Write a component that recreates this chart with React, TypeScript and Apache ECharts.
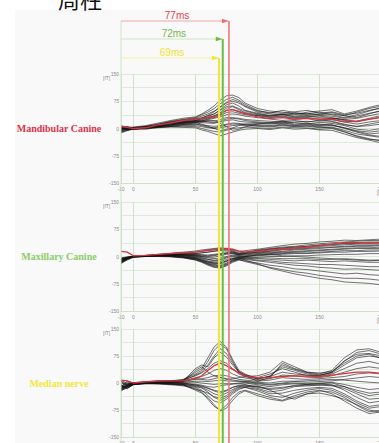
import React, { useEffect, useRef } from "react";
import * as echarts from "echarts";

// time samples (ms)
const timesMs = [-10, -5, 0, 10, 20, 30, 40, 50, 55, 60, 65, 70, 75, 80, 85, 90, 100, 110, 120, 130, 140, 150, 160, 170, 180, 190, 200, 210];

const xTickLabels = [-10, 0, 50, 100, 150, 200];
const yTickLabels = [-150, -75, 0, 75, 150];
const xGridValues = [0, 50, 100, 150, 200];

const panelNames = ["Mandibular Canine", "Maxillary Canine", "Median nerve"];
const latencyMs = [77, 72, 69];
const latencyLabels = ["77ms", "72ms", "69ms"];

// Mandibular canine (fT)
const mandibularMean = [5, 3, 0, 2, 10, 15, 22, 25, 28, 30, 33, 38, 50, 52, 46, 40, 32, 28, 30, 26, 28, 25, 26, 18, 20, 26, 30, 34];
const mandibularTraces = [
  [-5, 2, 4, 8, 15, 22, 28, 32, 40, 50, 62, 78, 90, 92, 85, 70, 55, 48, 45, 40, 42, 38, 40, 35, 45, 55, 62, 68],
  [0, 5, 2, 5, 12, 20, 25, 30, 38, 45, 55, 68, 80, 86, 78, 66, 50, 42, 50, 44, 40, 45, 38, 30, 38, 48, 58, 64],
  [3, -3, 0, 4, 10, 18, 24, 28, 34, 40, 48, 58, 70, 75, 70, 60, 45, 40, 38, 42, 36, 40, 44, 35, 30, 40, 50, 55],
  [-8, -2, -3, 3, 8, 14, 20, 26, 30, 35, 40, 50, 60, 62, 55, 48, 40, 35, 38, 32, 34, 30, 28, 25, 28, 35, 42, 48],
  [6, 0, 2, 6, 12, 18, 22, 25, 28, 30, 35, 42, 50, 52, 48, 42, 35, 30, 32, 28, 30, 26, 28, 22, 18, 25, 32, 38],
  [-3, 4, 1, 2, 8, 12, 18, 20, 22, 24, 28, 32, 38, 40, 38, 34, 30, 26, 22, 25, 28, 20, 24, 18, 12, 18, 22, 28],
  [2, -4, -1, 3, 6, 10, 15, 18, 20, 22, 20, 25, 30, 30, 28, 25, 22, 20, 18, 22, 18, 22, 20, 12, 5, 8, 12, 15],
  [-6, 2, 0, 1, 5, 8, 12, 15, 16, 15, 14, 18, 22, 24, 20, 18, 16, 14, 18, 12, 15, 10, 14, 8, -2, -5, 0, 4],
  [4, -2, 1, 0, 4, 6, 10, 12, 10, 8, 6, 8, 12, 15, 14, 12, 10, 8, 12, 8, 10, 6, 8, 2, -8, -15, -12, -8],
  [-10, -5, -2, 2, 4, 6, 8, 8, 5, 2, 0, 2, 5, 8, 10, 8, 6, 4, 8, 5, 6, 2, 4, -5, -15, -20, -25, -22],
  [0, 3, -2, -2, 3, 5, 6, 5, 0, -4, -8, -10, -5, 0, 2, 4, 2, 0, 4, 2, 2, -2, 0, -10, -20, -28, -35, -32],
  [-12, -6, -1, 1, 2, 4, 3, 2, -4, -8, -14, -20, -15, -10, -5, -2, 0, -3, 2, -2, 0, -4, -5, -15, -25, -32, -40, -42],
  [8, 4, 2, 4, 10, 16, 20, 22, 26, 32, 40, 52, 65, 70, 62, 50, 42, 36, 40, 38, 45, 48, 52, 40, 48, 58, 66, 72],
  [-4, 0, -1, 2, 6, 10, 14, 16, 18, 20, 22, 14, 5, -5, -2, 4, 12, 16, 14, 18, 20, 16, 18, 10, 6, 12, 18, 24],
  [2, -1, 3, 5, 10, 14, 18, 22, 28, 36, 46, 60, 72, 80, 74, 62, 48, 44, 42, 46, 50, 42, 46, 38, 42, 50, 56, 60],
  [-2, 1, -2, 0, 6, 12, 16, 20, 24, 28, 30, 36, 44, 46, 42, 38, 36, 32, 34, 30, 32, 34, 30, 24, 20, 28, 36, 42],
  [5, -3, 0, 3, 9, 14, 18, 21, 20, 18, 16, 20, 26, 28, 26, 22, 18, 16, 20, 16, 14, 12, 10, 2, -6, -10, -6, -2],
  [-7, 1, 2, 2, 7, 10, 14, 17, 12, 6, 0, -6, -2, 2, 8, 12, 14, 12, 16, 10, 12, 8, 10, 0, -10, -18, -22, -20],
  [1, 4, -1, 4, 9, 13, 16, 18, 20, 26, 34, 44, 56, 60, 52, 44, 38, 34, 38, 34, 38, 36, 34, 28, 34, 42, 48, 52],
  [-9, -4, 1, 1, 4, 8, 11, 12, 8, 4, 2, 6, 10, 12, 12, 10, 8, 6, 10, 6, 8, 4, 2, -8, -22, -30, -32, -30],
];

// Maxillary canine (fT)
const maxillaryMean = [14, 12, 2, 3, 6, 8, 10, 12, 14, 16, 18, 20, 22, 20, 15, 12, 14, 18, 20, 24, 26, 30, 34, 38, 38, 36, 38, 40];
const maxillaryTraces = [
  [-5, -2, 0, 3, 6, 9, 12, 15, 18, 20, 22, 24, 22, 18, 14, 16, 20, 25, 30, 34, 36, 40, 42, 45, 44, 46, 48, 48],
  [-10, -4, -1, 2, 5, 8, 10, 12, 15, 18, 20, 22, 20, 16, 10, 12, 18, 22, 26, 28, 32, 35, 38, 40, 42, 44, 44, 46],
  [-15, -6, 0, 2, 4, 6, 8, 8, 10, 12, 14, 16, 15, 12, 8, 10, 15, 20, 24, 26, 28, 32, 34, 36, 38, 40, 40, 42],
  [-8, -3, 1, 3, 5, 6, 7, 6, 5, 4, 6, 8, 10, 10, 5, 8, 12, 16, 20, 22, 24, 28, 30, 32, 34, 34, 35, 36],
  [-12, -5, 0, 2, 4, 5, 5, 3, 0, -2, -2, 2, 6, 8, 4, 6, 10, 12, 14, 18, 20, 22, 25, 26, 28, 28, 30, 30],
  [-20, -8, -2, 1, 3, 4, 3, 0, -4, -8, -10, -8, -2, 2, 0, 2, 6, 8, 10, 12, 14, 16, 18, 20, 22, 22, 22, 24],
  [-6, -2, 1, 2, 3, 3, 2, -2, -6, -12, -15, -14, -8, -4, -2, 0, 2, 4, 6, 8, 8, 10, 12, 12, 14, 14, 15, 16],
  [-14, -6, -1, 1, 2, 2, 0, -4, -10, -16, -20, -20, -14, -8, -4, -2, -2, 0, 0, 2, 2, 4, 5, 6, 6, 8, 8, 10],
  [-18, -10, -2, 0, 1, 0, -2, -6, -12, -20, -26, -28, -22, -14, -8, -5, -6, -8, -10, -12, -10, -12, -14, -12, -14, -16, -16, -18],
  [-10, -4, 0, 1, 2, 1, -1, -8, -14, -22, -28, -30, -24, -12, -6, -8, -12, -16, -20, -24, -26, -30, -32, -35, -34, -36, -38, -40],
  [-8, -3, -1, 0, 1, 0, -3, -10, -16, -24, -30, -32, -26, -16, -10, -12, -18, -24, -28, -34, -36, -40, -44, -48, -46, -50, -52, -54],
  [-16, -7, -1, 0, 0, -1, -4, -9, -14, -20, -24, -26, -20, -10, -8, -14, -22, -30, -36, -42, -46, -52, -56, -60, -60, -62, -66, -68],
  [-4, -1, 1, 1, 2, 1, -2, -6, -10, -15, -18, -18, -12, -6, -4, -10, -20, -32, -40, -48, -54, -60, -64, -70, -72, -74, -78, -80],
  [-12, -5, 0, 2, 3, 4, 4, 2, 0, -4, -6, -4, 0, 4, 2, 0, 4, 6, 2, 0, -2, -4, -6, -8, -10, -12, -10, -12],
  [-11, -5, 0, 2, 4, 6, 7, 8, 10, 12, 15, 18, 18, 14, 8, 10, 16, 20, 22, 25, 28, 30, 33, 35, 36, 38, 38, 40],
  [-17, -7, -1, 1, 3, 5, 5, 4, 2, 0, 2, 6, 10, 12, 6, 8, 12, 14, 18, 20, 22, 25, 26, 28, 30, 30, 32, 34],
  [-9, -4, 0, 1, 3, 4, 4, 1, -3, -8, -12, -10, -4, 0, -2, 0, 4, 6, 8, 10, 10, 12, 14, 16, 16, 18, 18, 20],
  [-13, -6, -1, 1, 2, 3, 2, -3, -8, -14, -18, -18, -12, -6, -3, -3, -4, -4, -6, -6, -6, -8, -8, -6, -8, -10, -10, -12],
  [-7, -3, 0, 1, 2, 2, 0, -5, -11, -18, -22, -24, -18, -10, -6, -6, -10, -12, -16, -18, -20, -22, -22, -24, -26, -28, -28, -30],
  [-15, -6, 0, 2, 4, 5, 6, 5, 4, 2, 4, 6, 8, 8, 4, 4, 8, 10, 12, 14, 16, 18, 20, 22, 24, 24, 26, 26],
];

// Median nerve (fT)
const medianMean = [8, 6, 0, 3, 5, 6, 6, 12, 20, 35, 48, 55, 48, 38, 28, 20, 14, 15, 18, 20, 19, 18, 22, 26, 30, 30, 27, 25];
const medianTraces = [
  [-15, -10, -3, 2, 4, 5, 8, 30, 40, 70, 100, 115, 100, 65, 35, 25, 10, 20, 45, 35, 25, 20, 30, 60, 85, 90, 80, 75],
  [-10, 5, 0, 3, 6, 5, 10, 25, 35, 60, 90, 108, 95, 60, 30, 20, 5, 15, 55, 40, 30, 25, 35, 70, 92, 95, 85, 80],
  [-20, -8, -2, 1, 2, 4, 6, 40, 50, 45, 70, 85, 72, 50, 30, 22, 15, 25, 40, 30, 20, 22, 28, 50, 70, 75, 70, 65],
  [5, -5, 1, 4, 6, 7, 8, 20, 28, 40, 55, 62, 55, 40, 25, 18, 12, 18, 30, 25, 22, 18, 25, 40, 55, 60, 52, 48],
  [-18, -12, -4, 0, 3, 2, 5, 15, 18, 25, 35, 40, 35, 25, 18, 14, 8, 12, 22, 20, 16, 15, 20, 30, 40, 45, 40, 35],
  [8, -2, 0, 2, 4, 5, 4, 10, 12, 15, 20, 22, 20, 15, 10, 8, 5, 8, 15, 12, 10, 12, 15, 18, 25, 28, 25, 20],
  [-12, -6, -2, 1, 2, 3, 2, 5, 5, 4, 6, 8, 6, 5, 4, 5, 2, 0, 5, 5, 6, 8, 10, 8, 5, 2, 0, 2],
  [-16, -4, -1, 0, 1, 0, -2, -3, -6, -10, -12, -8, -5, -3, -2, 0, -5, -10, -5, -2, -4, -2, 0, -10, -25, -35, -30, -28],
  [-8, -10, -3, -1, 0, -2, -4, -8, -12, -20, -30, -35, -28, -18, -10, -8, -15, -25, -20, -10, -8, -6, -5, -20, -40, -55, -50, -45],
  [-20, -14, -5, -2, -1, -3, -6, -12, -20, -35, -50, -55, -45, -30, -18, -12, -22, -35, -40, -28, -20, -15, -20, -35, -55, -70, -65, -60],
  [-14, -8, -2, -1, -2, -4, -8, -15, -25, -45, -65, -75, -62, -40, -25, -20, -30, -40, -48, -35, -25, -20, -30, -50, -70, -85, -80, -75],
  [-22, -12, -3, -2, -3, -5, -5, -20, -28, -40, -60, -78, -70, -48, -30, -22, -35, -45, -50, -40, -30, -28, -35, -45, -60, -75, -82, -78],
  [0, -6, -2, 0, 1, 2, 3, 35, 45, 30, 20, 15, 10, 12, 15, 18, 20, 30, 60, 45, 30, 28, 32, 55, 75, 80, 68, 60],
  [-10, 2, -1, 1, 0, -2, -4, -18, -22, -28, -38, -42, -35, -22, -12, -10, -8, -20, -35, -45, -30, -22, -25, -40, -62, -80, -75, -70],
  [-6, -14, -4, 0, 2, 3, 5, 12, 10, 8, 12, 16, 12, 8, 6, 4, 0, -4, 0, 4, 2, 4, 6, 10, 14, 18, 15, 12],
  [-18, -6, -3, -1, 0, 1, 0, -6, -8, -14, -20, -24, -20, -12, -8, -6, -10, -15, -12, -8, -6, -5, -8, -15, -30, -45, -42, -38],
  [-12, -2, 0, 2, 3, 4, 6, 22, 30, 50, 75, 95, 82, 55, 32, 22, 12, 18, 50, 38, 28, 22, 30, 62, 80, 82, 75, 70],
  [4, -8, -2, -1, -1, -2, -3, -10, -14, -25, -40, -48, -40, -26, -15, -12, -18, -30, -28, -20, -15, -12, -15, -30, -50, -65, -60, -55],
  [-14, -10, -3, 0, 1, 1, 2, 2, 0, -2, -4, -2, -2, -2, 0, 2, -2, -6, -2, 0, -2, 0, 2, -4, -12, -18, -15, -12],
  [-4, -16, -4, -1, 0, 0, -1, -5, -10, -15, -22, -28, -22, -12, -6, -4, -12, -18, -15, -6, -4, -2, -6, -10, -20, -28, -25, -22],
];

const panelTraces = [mandibularTraces, maxillaryTraces, medianTraces];
const panelMeans = [mandibularMean, maxillaryMean, medianMean];

export default function App() {
  const ref = useRef<HTMLDivElement>(null);

  useEffect(() => {
    const chart = echarts.init(ref.current!, null, { renderer: "svg" });
    const grids = [
      { top: 74, height: 109 },
      { top: 202, height: 109 },
      { top: 329, height: 108 },
    ];
    const gridLeft = 121;
    const gridWidth = 273;
    const axisGreen = "#cfe2c8";
    const splitGreen = "#dcebd7";
    const labelColors = ["#e0324a", "#8ccc6a", "#f2e640"];
    const lineColors = ["#ef6f6f", "#6cbc44", "#f0e634"];
    const bracketColors = ["#f4a6a6", "#cfe6c2", "#f6f0a0"];
    const textColors = ["#e8404a", "#74b848", "#f0e030"];

    const toPairs = (vals: number[]) => timesMs.map((t, i) => [t, vals[i]]);

    const series: any[] = [];
    panelTraces.forEach((traces, p) => {
      // vertical grid lines, behind the traces
      series.push({
        type: "line",
        xAxisIndex: p,
        yAxisIndex: p,
        data: [],
        silent: true,
        z: 1,
        markLine: {
          z: 1,
          silent: true,
          symbol: ["none", "none"],
          label: { show: false },
          lineStyle: { color: axisGreen, width: 1, type: "solid" },
          data: xGridValues.map((v) => ({ xAxis: v })),
        },
      });
      traces.forEach((vals) => {
        series.push({
          type: "line",
          xAxisIndex: p,
          yAxisIndex: p,
          data: toPairs(vals),
          showSymbol: false,
          symbol: "none",
          silent: true,
          z: 2,
          lineStyle: { color: "#141414", width: 0.7, opacity: 0.85 },
        });
      });
      series.push({
        type: "line",
        xAxisIndex: p,
        yAxisIndex: p,
        data: toPairs(panelMeans[p]),
        showSymbol: false,
        symbol: "none",
        silent: true,
        z: 3,
        lineStyle: { color: "#d9323a", width: 1.3 },
      });
    });

    const option: any = {
      animation: false,
      backgroundColor: "#ffffff",
      grid: grids.map((g) => ({
        left: gridLeft,
        width: gridWidth,
        top: g.top,
        height: g.height,
        containLabel: false,
        outerBoundsMode: "none",
      })),
      xAxis: grids.map((_, i) => ({
        type: "value",
        gridIndex: i,
        min: -10,
        max: 210,
        splitLine: { show: false },
        axisTick: { show: false },
        axisLine: { show: true, onZero: false, lineStyle: { color: axisGreen } },
        axisLabel: {
          customValues: xTickLabels,
          fontSize: 5,
          color: "#8a8a8a",
          margin: 3,
          fontFamily: "Liberation Sans",
        },
      })),
      yAxis: grids.map((_, i) => ({
        type: "value",
        gridIndex: i,
        min: -150,
        max: 150,
        interval: 37.5,
        axisTick: { show: false },
        axisLine: { show: true, onZero: false, lineStyle: { color: axisGreen } },
        splitLine: { show: true, lineStyle: { color: splitGreen, width: 1 } },
        axisLabel: {
          customValues: yTickLabels,
          fontSize: 5,
          color: "#8a8a8a",
          margin: 2,
          fontFamily: "Liberation Sans",
        },
      })),
      series,
    };
    chart.setOption(option);

    const px = (v: number) => chart.convertToPixel({ xAxisIndex: 0 }, v) as number;
    const x0 = px(-10);
    const bracketY = [21, 39, 58];
    const graphic: any[] = [];

    graphic.push({
      type: "rect",
      z: -100,
      shape: { x: 15, y: 10, width: 364, height: 433 },
      style: { fill: "#f9f9f9" },
    });
    graphic.push({
      type: "text",
      x: 58,
      y: 9,
      z: 60,
      style: {
        text: "周柱",
        fontSize: 22,
        fontFamily: "Noto Sans CJK SC",
        fill: "#111",
        align: "left",
        verticalAlign: "bottom",
      },
    });
    graphic.push({
      type: "line",
      z: 40,
      shape: { x1: x0, y1: 21, x2: x0, y2: 443 },
      style: { stroke: axisGreen, lineWidth: 1 },
    });

    latencyMs.forEach((ms, i) => {
      const xv = px(ms);
      const y = bracketY[i];
      graphic.push({
        type: "line",
        z: 45,
        shape: { x1: x0, y1: y, x2: xv - 4, y2: y },
        style: { stroke: bracketColors[i], lineWidth: 1 },
      });
      graphic.push({
        type: "polygon",
        z: 46,
        shape: { points: [[xv - 7, y - 2.2], [xv, y], [xv - 7, y + 2.2]] },
        style: { fill: lineColors[i] },
      });
      graphic.push({
        type: "line",
        z: 50 - i,
        shape: { x1: xv, y1: y, x2: xv, y2: 443 },
        style: { stroke: lineColors[i], lineWidth: i === 0 ? 1.5 : 2 },
      });
      graphic.push({
        type: "text",
        x: (x0 + xv) / 2 + 2,
        y: y - 6,
        z: 55,
        style: {
          text: latencyLabels[i],
          fontSize: 10,
          fontFamily: "Liberation Sans",
          fill: textColors[i],
          align: "center",
          verticalAlign: "middle",
        },
      });
    });

    grids.forEach((g, p) => {
      graphic.push({
        type: "text",
        x: 59,
        y: g.top + g.height / 2,
        z: 55,
        style: {
          text: panelNames[p],
          fontSize: 10,
          fontWeight: "bold",
          fontFamily: "Liberation Serif",
          fill: labelColors[p],
          align: "center",
          verticalAlign: "middle",
        },
      });
      graphic.push({
        type: "text",
        x: 103,
        y: g.top + 4,
        z: 55,
        style: { text: "[fT]", fontSize: 5, fill: "#8a8a8a", fontFamily: "Liberation Sans", align: "left", verticalAlign: "middle" },
      });
      graphic.push({
        type: "text",
        x: px(200),
        y: g.top + g.height + 10,
        z: 55,
        style: { text: "[ms]", fontSize: 5, fill: "#8a8a8a", fontFamily: "Liberation Sans", align: "center", verticalAlign: "middle" },
      });
    });

    chart.setOption({ graphic });

    return () => chart.dispose();
  }, []);

  return (
    <div
      ref={ref}
      style={{ position: "fixed", left: 0, top: 0, width: 379, height: 443 }}
    />
  );
}
